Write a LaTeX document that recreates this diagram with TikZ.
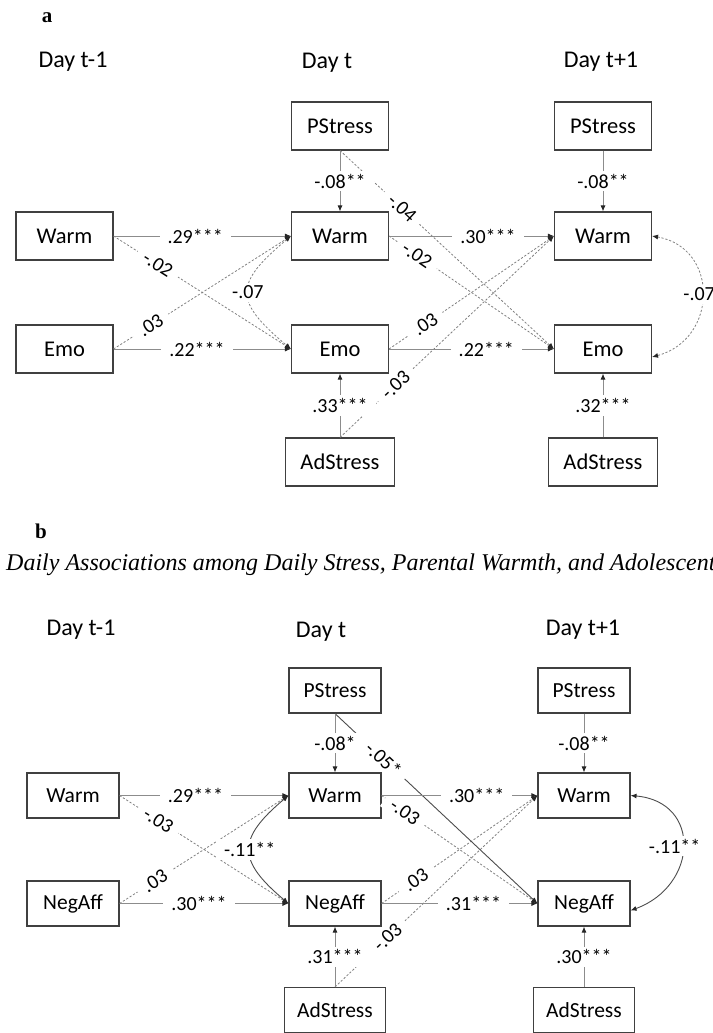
\documentclass[tikz,border=0pt]{standalone}
\usepackage{fontspec}
\setmainfont{Carlito}
\newfontfamily\captionserif{Liberation Serif}
\usepackage{tikz}
\usetikzlibrary{positioning,arrows.meta}
\tikzstyle{varbox} = [rectangle, minimum width=97pt, minimum height=48pt, inner xsep=15pt, text centered, draw=black!75, line width=1.1pt, font=\fontsize{22.5}{27}\selectfont]
\tikzstyle{varboxb} = [varbox, minimum width=92pt, minimum height=45pt, inner xsep=13pt, font=\fontsize{21.5}{26}\selectfont]
\tikzstyle{daylabel} = [font=\fontsize{24}{29}\selectfont]
\tikzstyle{panel} = [font=\captionserif\bfseries\fontsize{21}{25}\selectfont]
\tikzstyle{coef} = [fill=white, inner sep=3pt, inner xsep=8pt, font=\fontsize{20}{24}\selectfont]
\tikzstyle{sigpath} = [draw=black!45, line width=0.9pt, ->]
\tikzstyle{sigdark} = [draw=black!70, line width=0.9pt, ->]
\tikzstyle{nspath} = [draw=black!50, line width=0.8pt, dash pattern=on 2.2pt off 1.8pt, ->]

\begin{document}
\begin{tikzpicture}[>={Latex[length=6pt,width=5pt,color=black!85]}]
			\useasboundingbox (0,0) rectangle (712pt,-1033pt);

			\node (labA) [panel] at (47pt,-18pt) {a};
			\node (dayA0) [daylabel] at (73pt,-62pt) {Day t-1};
			\node (dayA1) [daylabel] at (327pt,-63pt) {Day t};
			\node (dayA2) [daylabel] at (601pt,-62pt) {Day t+1};

			\begin{scope}[node distance=113pt]
			\node (warmA0) [varbox] at (64.5pt,-236pt) {Warm};
			\node (emoA0) [varbox, below of=warmA0] {Emo};
			\node (warmA1) [varbox, right of=warmA0, xshift=162.5pt] {Warm};
			\node (pstressA1) [varbox, above of=warmA1, yshift=-3pt] {PStress};
			\node (emoA1) [varbox, below of=warmA1] {Emo};
			\node (adstressA1) [varbox, below of=emoA1] {AdStress};
			\node (warmA2) [varbox, right of=warmA1, xshift=150pt] {Warm};
			\node (pstressA2) [varbox, above of=warmA2, yshift=-3pt] {PStress};
			\node (emoA2) [varbox, below of=warmA2] {Emo};
			\node (adstressA2) [varbox, below of=emoA2] {AdStress};
			\end{scope}

			\draw[nspath] (warmA0.east) -- node[coef, sloped, pos=0.25] {-.02} (emoA1.west);
			\draw[nspath] (emoA0.east) -- node[coef, sloped, pos=0.21] {.03} (warmA1.west);
			\draw[nspath, <->] (warmA1.west) to[out=220, in=140, looseness=1.7] node[coef] {-.07} (emoA1.west);
			\draw[nspath] (pstressA1.south) -- node[coef, sloped, pos=0.29] {-.04} (emoA2.west);
			\draw[nspath] (adstressA1.north) -- node[coef, sloped, pos=0.26] {-.03} (warmA2.west);
			\draw[nspath] (warmA1.east) -- node[coef, sloped, pos=0.17] {-.02} (emoA2.west);
			\draw[nspath] (emoA1.east) -- node[coef, sloped, pos=0.22] {.03} (warmA2.west);
			\draw[nspath, <->] (warmA2.east) to[out=-10, in=15, looseness=1.45] node[coef, xshift=-3pt] {-.07} ([yshift=-8pt]emoA2.east);
			\draw[sigpath] (warmA0.east) -- node[coef, pos=0.46] {.29***} (warmA1.west);
			\draw[sigpath] (emoA0.east) -- node[coef, pos=0.47] {.22***} (emoA1.west);
			\draw[sigpath] (pstressA1.south) -- node[coef] {-.08**} (warmA1.north);
			\draw[sigpath] (adstressA1.north) -- node[coef] {.33***} (emoA1.south);
			\draw[sigpath] (warmA1.east) -- node[coef, pos=0.6] {.30***} (warmA2.west);
			\draw[sigpath] (emoA1.east) -- node[coef, pos=0.59] {.22***} (emoA2.west);
			\draw[sigpath] (pstressA2.south) -- node[coef] {-.08**} (warmA2.north);
			\draw[sigpath] (adstressA2.north) -- node[coef] {.32***} (emoA2.south);

			\node (labB) [panel] at (41pt,-531pt) {b};
			\node (caption) [anchor=west, inner xsep=0pt, font=\captionserif\itshape\fontsize{24}{28}\selectfont] at (6pt,-565pt) {Daily Associations among Daily Stress, Parental Warmth, and Adolescent};
			\node (dayB0) [daylabel] at (81pt,-630pt) {Day t-1};
			\node (dayB1) [daylabel] at (321pt,-632pt) {Day t};
			\node (dayB2) [daylabel] at (583pt,-630pt) {Day t+1};

			\begin{scope}[node distance=108pt]
			\node (warmB0) [varboxb] at (73pt,-795.5pt) {Warm};
			\node (negB0) [varboxb, below of=warmB0] {NegAff};
			\node (warmB1) [varboxb, right of=warmB0, xshift=154pt] {Warm};
			\node (pstressB1) [varboxb, above of=warmB1, yshift=-3pt] {PStress};
			\node (negB1) [varboxb, below of=warmB1] {NegAff};
			\node (adstressB1) [varboxb, below of=negB1, yshift=1.5pt] {AdStress};
			\node (warmB2) [varboxb, right of=warmB1, xshift=141pt] {Warm};
			\node (pstressB2) [varboxb, above of=warmB2, yshift=-3pt] {PStress};
			\node (negB2) [varboxb, below of=warmB2] {NegAff};
			\node (adstressB2) [varboxb, below of=negB2, yshift=1.5pt] {AdStress};
			\end{scope}

			\draw[nspath] (warmB0.east) -- node[coef, sloped, pos=0.23] {-.03} (negB1.west);
			\draw[nspath] (negB0.east) -- node[coef, sloped, pos=0.21] {.03} (warmB1.west);
			\draw[nspath] (warmB1.east) -- node[coef, sloped, pos=0.15] {-.03} (negB2.west);
			\draw[nspath] (negB1.east) -- node[coef, sloped, pos=0.22] {.03} (warmB2.west);
			\draw[nspath] (adstressB1.north) -- node[coef, sloped, pos=0.26] {-.03} (warmB2.west);
			\draw[sigdark, <->] (warmB1.west) to[out=220, in=140, looseness=1.6] node[coef] {-.11**} (negB1.west);
			\draw[sigdark] (pstressB1.south) -- node[coef, sloped, pos=0.24] {-.05*} (negB2.west);
			\draw[sigdark, <->] (warmB2.east) to[out=-5, in=20, looseness=1.6] node[coef, xshift=-8pt] {-.11**} ([yshift=-7pt]negB2.east);
			\draw[sigpath] (warmB0.east) -- node[coef, pos=0.45] {.29***} (warmB1.west);
			\draw[sigpath] (negB0.east) -- node[coef, pos=0.47] {.30***} (negB1.west);
			\draw[sigpath] (pstressB1.south) -- node[coef] {-.08*} (warmB1.north);
			\draw[sigpath] (adstressB1.north) -- node[coef] {.31***} (negB1.south);
			\draw[sigpath] (warmB1.east) -- node[coef, pos=0.61] {.30***} (warmB2.west);
			\draw[sigpath] (negB1.east) -- node[coef, pos=0.59] {.31***} (negB2.west);
			\draw[sigpath] (pstressB2.south) -- node[coef] {-.08**} (warmB2.north);
			\draw[sigpath] (adstressB2.north) -- node[coef] {.30***} (negB2.south);

\end{tikzpicture}
\end{document}
